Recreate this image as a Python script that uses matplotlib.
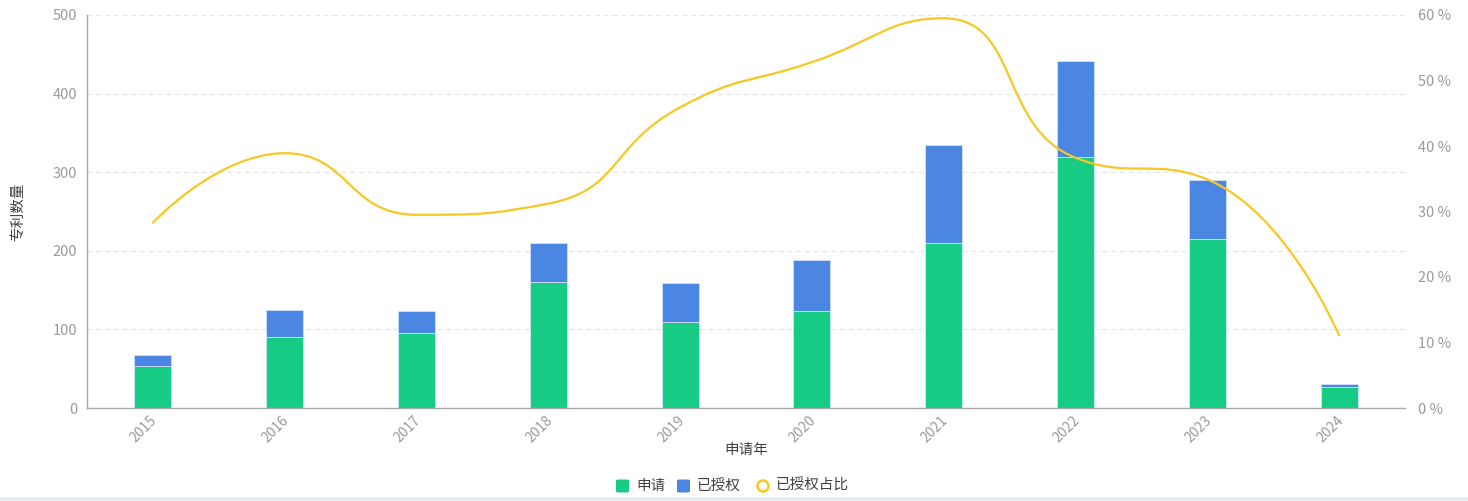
import numpy as np
import matplotlib
matplotlib.use("Agg")
import matplotlib.pyplot as plt
from matplotlib.path import Path
from matplotlib.patches import PathPatch, FancyBboxPatch, Ellipse, Rectangle
from matplotlib.transforms import ScaledTranslation

plt.rcParams['font.family'] = ['Noto Sans CJK SC', 'DejaVu Sans']

# Data
years = ['2015', '2016', '2017', '2018', '2019', '2020', '2021', '2022', '2023', '2024']
applied = [53, 90, 95, 160, 109, 123, 210, 319, 215, 27]
granted = [15, 35, 28, 50, 50, 65, 125, 122, 75, 3]
granted_ratio = [28.3, 38.9, 29.5, 31.2, 45.9, 52.8, 59.5, 38.2, 34.9, 11.1]
left_ticks = [0, 100, 200, 300, 400, 500]
right_ticks = [0, 10, 20, 30, 40, 50, 60]

GREEN = '#16cc84'
BLUE = '#4b86e3'
YELLOW = '#f5c823'
TICK_COLOR = '#9a9a9a'
TEXT_COLOR = '#404040'

W, H = 1468, 501
fig = plt.figure(figsize=(W / 100, H / 100), dpi=100)

left_px, right_px, top_px, bottom_px = 87, 1405, 15, 408
ax = fig.add_axes([left_px / W, 1 - bottom_px / H,
                   (right_px - left_px) / W, (bottom_px - top_px) / H])
ax2 = ax.twinx()

x = np.arange(len(years))
bw = 0.28
ax.bar(x, applied, width=bw, color=GREEN, edgecolor='#cfe9ff', linewidth=0.6, zorder=2)
ax.bar(x, granted, width=bw, bottom=applied, color=BLUE, edgecolor='#cfe0ff',
       linewidth=0.6, zorder=2)

ax.set_xlim(-0.5, len(years) - 0.5)
ax.set_ylim(0, 500)
ax.set_yticks(left_ticks)
ax.set_yticklabels([str(t) for t in left_ticks])
ax.set_xticks(x)
ax.set_xticklabels(years, rotation=45, ha='right', rotation_mode='anchor')
ax.tick_params(axis='x', length=0, pad=4, labelsize=10, colors=TICK_COLOR)
ax.tick_params(axis='y', length=0, pad=7, labelsize=10.5, colors=TICK_COLOR)
shift = ScaledTranslation(-3 / 100, 0, fig.dpi_scale_trans)
for lbl in ax.get_xticklabels():
    lbl.set_transform(lbl.get_transform() + shift)
ax.grid(axis='y', color='#e6e6e6', linestyle=(0, (4, 3)), linewidth=0.9, zorder=0)
ax.set_axisbelow(True)
for s in ['top', 'right']:
    ax.spines[s].set_visible(False)
for s in ['left', 'bottom']:
    ax.spines[s].set_color('#aaaaaa')
    ax.spines[s].set_linewidth(1.0)

ax.set_xlabel('申请年', fontsize=10.5, color=TEXT_COLOR)
ax.xaxis.label.set_va('center')
ax.xaxis.set_label_coords(0.5, -(450 - bottom_px) / (bottom_px - top_px))
ax.set_ylabel('专利数量', fontsize=10.5, color=TEXT_COLOR)
ax.yaxis.label.set_va('center')
ax.yaxis.set_label_coords(-(left_px - 18) / (right_px - left_px), 0.5)

ax2.set_ylim(0, 60)
ax2.set_yticks(right_ticks)
ax2.set_yticklabels([f'{t} %' for t in right_ticks])
ax2.tick_params(axis='y', length=0, pad=9, labelsize=10.5, colors=TICK_COLOR)
for s in ax2.spines.values():
    s.set_visible(False)


def smooth_bezier(pts, smooth=0.5):
    """Monotone-clamped cubic bezier through pts (display coords)."""
    verts = [tuple(pts[0])]
    codes = [Path.MOVETO]
    n = len(pts)
    cp0 = tuple(pts[0])
    for i in range(1, n):
        px, py = pts[i - 1]
        cx, cy = pts[i]
        if i == n - 1:
            cp1 = (cx, cy)
            ncp0 = None
        else:
            nx, ny = pts[i + 1]
            vx, vy = nx - px, ny - py
            lp = np.hypot(cx - px, cy - py)
            ln = np.hypot(nx - cx, ny - cy)
            r = ln / (ln + lp)
            ncx = cx + vx * smooth * r
            ncy = cy + vy * smooth * r
            ncx = min(ncx, max(nx, cx)); ncy = min(ncy, max(ny, cy))
            ncx = max(ncx, min(nx, cx)); ncy = max(ncy, min(ny, cy))
            vx, vy = ncx - cx, ncy - cy
            c1x = cx - vx * lp / ln
            c1y = cy - vy * lp / ln
            c1x = min(c1x, max(px, cx)); c1y = min(c1y, max(py, cy))
            c1x = max(c1x, min(px, cx)); c1y = max(c1y, min(py, cy))
            vx, vy = cx - c1x, cy - c1y
            ncx = cx + vx * ln / lp
            ncy = cy + vy * ln / lp
            cp1 = (c1x, c1y)
            ncp0 = (ncx, ncy)
        verts += [cp0, cp1, (cx, cy)]
        codes += [Path.CURVE4] * 3
        cp0 = ncp0
    return np.array(verts), codes


disp = ax2.transData.transform(np.column_stack([x, granted_ratio]))
verts, codes = smooth_bezier(disp)
verts_data = ax2.transData.inverted().transform(verts)
line = PathPatch(Path(verts_data, codes), facecolor='none', edgecolor=YELLOW,
                 linewidth=1.6, zorder=3, capstyle='round')
ax2.add_patch(line)


# Legend drawn in figure pixel space
def fx(px):
    return px / W


def fy(py):
    return 1 - py / H


ly = 486
sq = 13
for x0, col in [(616, GREEN), (677, BLUE)]:
    fig.patches.append(FancyBboxPatch((fx(x0), fy(ly + sq / 2)), sq / W, sq / H,
                                      boxstyle=f'round,pad=0,rounding_size={3 / W}',
                                      transform=fig.transFigure, facecolor=col,
                                      edgecolor='none'))
fig.patches.append(Ellipse((fx(763), fy(ly)), 11 / W, 11 / H,
                           transform=fig.transFigure, facecolor='white',
                           edgecolor=YELLOW, linewidth=1.8))
for tx, label in [(636, '申请'), (697, '已授权'), (776, '已授权占比')]:
    fig.text(fx(tx), fy(ly), label, fontsize=10.5, color=TEXT_COLOR,
             ha='left', va='center')

# Bottom border strip
fig.patches.append(Rectangle((0, 0), 1, 4 / H, transform=fig.transFigure,
                             facecolor='#e9edf1', edgecolor='none'))

fig.savefig('out.png', dpi=100)
